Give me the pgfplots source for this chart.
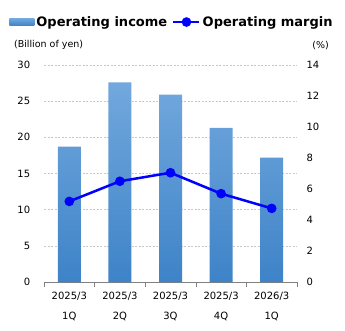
\documentclass[border=0pt]{standalone}
\usepackage{fontspec}
\setmainfont{DejaVu Sans}
\usepackage{pgfplots}
\pgfplotsset{compat=1.18}
\definecolor{bartop}{RGB}{114,168,221}
\definecolor{barbot}{RGB}{62,131,200}
\definecolor{gridc}{RGB}{200,200,200}
\definecolor{axc}{RGB}{128,128,128}
\definecolor{lineblue}{RGB}{0,0,255}
\pgfplotsset{
  mylineleg/.style={legend image code/.code={\draw[mark repeat=2, mark phase=2, ##1] plot coordinates {(0pt,0pt) (13pt,0pt) (26pt,0pt)};}},
  mybarleg/.style={legend image code/.code={\shade[draw=none, top color=bartop, bottom color=barbot] (0pt,-3.5pt) rectangle (25pt,3.5pt);}},
}
\begin{document}
\begin{tikzpicture}
\path (-44pt,-48pt) rectangle (301pt,282pt);
\begin{axis}[
  at={(0pt,0pt)}, anchor=south west,
  scale only axis, width=253pt, height=217pt,
  xmin=-0.5, xmax=4.5, ymin=0, ymax=30,
  ytick={0,5,...,30},
  axis x line*=bottom, axis y line*=left,
  x axis line style={draw=axc, -},
  y axis line style={draw=none},
  ytick style={draw=none},
  ymajorgrids, grid style={gridc, line width=0.5pt, dash pattern=on 2pt off 1.5pt},
  xtick={0,1,2,3,4},
  xticklabels={{2025/3\\1Q},{2025/3\\2Q},{2025/3\\3Q},{2025/3\\4Q},{2026/3\\1Q}},
  major x tick style={draw=none},
  minor xtick={-0.5,0.5,1.5,2.5,3.5,4.5},
  minor x tick style={draw=axc, line width=0.6pt},
  minor tick length=5pt,
  tick align=outside,
  /pgf/number format/assume math mode=true,
  yticklabel style={font=\fontsize{10}{12}\selectfont, xshift=-6pt},
  xticklabel style={align=center, font=\fontsize{10}{20}\selectfont, yshift=-2pt},
  ybar, bar width=23pt,
  clip=false,
]
\addplot[draw=none, top color=bartop, bottom color=barbot] coordinates {(0,18.7) (1,27.6) (2,25.9) (3,21.3) (4,17.2)};
\node[anchor=west, font=\fontsize{9.5}{11}\selectfont, inner sep=0pt] at (rel axis cs:-0.119,1.092) {(Billion of yen)};
\node[anchor=west, font=\fontsize{9.5}{11}\selectfont, inner sep=0pt] at (rel axis cs:1.06,1.092) {(\%)};
\end{axis}
\begin{axis}[
  at={(0pt,0pt)}, anchor=south west,
  scale only axis, width=253pt, height=217pt,
  xmin=-0.5, xmax=4.5, ymin=0, ymax=14,
  ytick={0,2,...,14},
  axis x line=none, axis y line*=right,
  y axis line style={draw=none},
  ytick style={draw=none},
  /pgf/number format/assume math mode=true,
  yticklabel style={font=\fontsize{10}{12}\selectfont, xshift=6pt},
  clip=false,
  legend style={at={(0.506,1.198)}, anchor=center, draw=none, fill=none,
    legend columns=2, font=\bfseries\fontsize{13}{15}\selectfont,
    /tikz/every even column/.append style={column sep=3pt},
    inner sep=0pt, cells={anchor=west}},
]
\addlegendimage{mybarleg}
\addlegendentry{Operating income}
\addplot[lineblue, line width=2.5pt, mark=*, mark size=3.5pt, mark options={fill=lineblue, draw=lineblue}, mylineleg]
  coordinates {(0,5.2) (1,6.5) (2,7.05) (3,5.7) (4,4.75)};
\addlegendentry{Operating margin}
\end{axis}
\end{tikzpicture}
\end{document}
